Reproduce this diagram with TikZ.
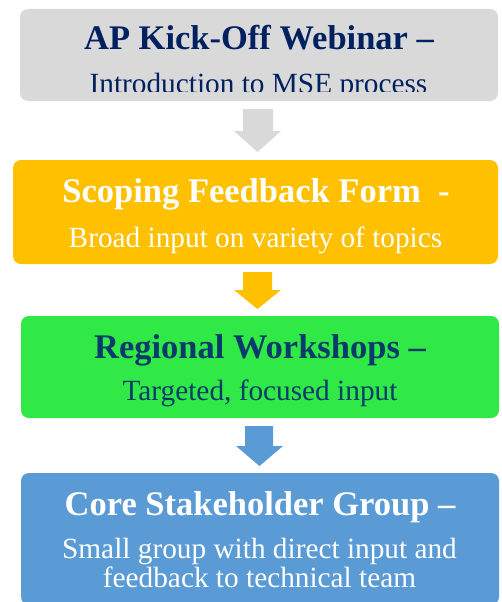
\documentclass[tikz,border=0pt]{standalone}
\usepackage{fontspec}
\setmainfont{Liberation Serif}
\definecolor{boxgray}{HTML}{D9D9D9}
\definecolor{boxorange}{HTML}{FFC000}
\definecolor{boxgreen}{HTML}{30E946}
\definecolor{boxblue}{HTML}{5B9BD5}
\definecolor{navy}{HTML}{002060}
\definecolor{navytwo}{HTML}{083A6B}
\tikzset{
  box/.style={rectangle, rounded corners=8pt, inner sep=0pt, outer sep=0pt, draw=none},
  titletext/.style={anchor=base, inner sep=0pt, font=\fontsize{34.5}{36}\selectfont\bfseries},
  subtext/.style={anchor=base, inner sep=0pt, font=\fontsize{29.3}{30}\selectfont},
}
\newcommand{\blockarrow}[6]{% x-left-shaft, x-right-shaft, y-top, y-neck, x-head-left, x-head-right, tip y = #6? 
}
\begin{document}
\begin{tikzpicture}[x=1pt,y=-1pt]
\useasboundingbox (0,0) rectangle (501,602);
\fill[white] (0,0) rectangle (501,602);
% boxes
\node[box, fill=boxgray, minimum width=478pt, minimum height=92pt] (b1) at (259,55) {};
\node[box, fill=boxorange, minimum width=485pt, minimum height=104pt] (b2) at (255.5,212) {};
\node[box, fill=boxgreen, minimum width=478pt, minimum height=102pt] (b3) at (260,367) {};
\node[box, fill=boxblue, minimum width=478pt, minimum height=132pt] (b4) at (260,539) {};
% arrows
\fill[boxgray] (243,109) -- (273,109) -- (273,131) -- (281,131) -- (257.5,152) -- (234,131) -- (243,131) -- cycle;
\fill[boxorange] (243,272) -- (272,272) -- (272,290) -- (281,290) -- (257.5,309) -- (234,290) -- (243,290) -- cycle;
\fill[boxblue] (245,426) -- (273,426) -- (273,446) -- (283,446) -- (259.5,466) -- (236,446) -- (245,446) -- cycle;
% texts
\node[titletext, text=navy] (t1) at (259,50) {AP Kick-Off Webinar –};
\begin{scope}
\clip (20,9) rectangle (498,91);
\node[subtext, text=navy] (s1) at (258.5,93) {Introduction to MSE process};
\end{scope}
\node[titletext, text=white] (t2) at (256,202) {Scoping Feedback Form\ \ -};
\node[subtext, text=white] (s2) at (255.5,247) {Broad input on variety of topics};
\node[titletext, text=navytwo] (t3) at (260,358) {Regional Workshops –};
\node[subtext, text=navytwo] (s3) at (260,400) {Targeted, focused input};
\node[titletext, text=white] (t4) at (260,515) {Core Stakeholder Group –};
\node[subtext, text=white] (s4a) at (259.5,558) {Small group with direct input and};
\node[subtext, text=white] (s4b) at (259.5,587) {feedback to technical team};
\end{tikzpicture}
\end{document}
